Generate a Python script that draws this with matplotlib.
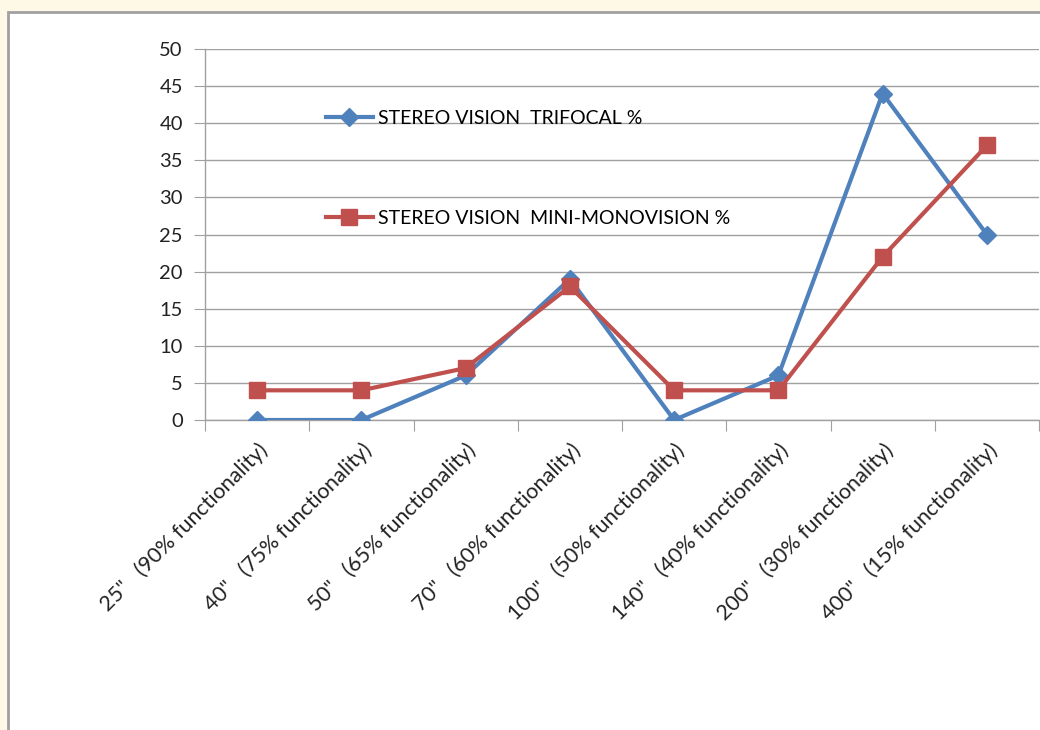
import matplotlib
matplotlib.use("Agg")
import matplotlib.pyplot as plt
from matplotlib.patches import Rectangle

categories = ['25"   (90% functionality)', '40"   (75% functionality)', '50"   (65% functionality)',
              '70"   (60% functionality)', '100"   (50% functionality)', '140"   (40% functionality)',
              '200"   (30% functionality)', '400"   (15% functionality)']
trifocal = [0, 0, 6, 19, 0, 6, 44, 25]
mini_mono = [4, 4, 7, 18, 4, 4, 22, 37]
series_names = ["STEREO VISION  TRIFOCAL %", "STEREO VISION  MINI-MONOVISION %"]
yticks = [0, 5, 10, 15, 20, 25, 30, 35, 40, 45, 50]

plt.rcParams['font.family'] = ['Lato', 'DejaVu Sans']
W, H = 1040, 730
fig = plt.figure(figsize=(W / 100, H / 100), dpi=100)
fig.patch.set_facecolor('#FEF9E6')
# chart area frame
fig.patches.append(Rectangle((8 / W, -0.05), 1.1, 1 - 12 / H + 0.05, transform=fig.transFigure,
                             facecolor='white', edgecolor='#A0A0A0', linewidth=2, zorder=-5))

ax = fig.add_axes([205 / W, 1 - 420 / H, (1039 - 205) / W, (420 - 49) / H])
ax.set_facecolor('none')
x = list(range(len(categories)))
blue = '#4F81BD'
red = '#C0504D'
ax.plot(x, trifocal, color=blue, lw=3, marker='D', ms=9, label=series_names[0], zorder=3)
ax.plot(x, mini_mono, color=red, lw=3, marker='s', ms=11, label=series_names[1], zorder=3)

ax.set_xlim(-0.5, len(categories) - 0.5)
ax.set_ylim(0, 50)
ax.set_yticks(yticks)
ax.set_yticklabels([str(v) for v in yticks], fontsize=14.5, color='#222222')
ax.yaxis.grid(True, color='#A0A0A0', lw=1)
ax.set_axisbelow(True)
ax.tick_params(axis='y', length=8, color='#A0A0A0', pad=8)

ax.set_xticks([i - 0.5 for i in range(len(categories) + 1)], minor=False)
ax.set_xticklabels([])
ax.tick_params(axis='x', which='major', length=8, color='#A0A0A0', direction='out')
ax.set_xticks(x, minor=True)
ax.set_xticklabels(categories, minor=True, rotation=45, ha='right', va='top',
                   rotation_mode='anchor', fontsize=15.5, color='#222222')
ax.tick_params(axis='x', which='minor', length=0, pad=14)

for s in ['top', 'right']:
    ax.spines[s].set_visible(False)
for s in ['left', 'bottom']:
    ax.spines[s].set_color('#A0A0A0')
    ax.spines[s].set_linewidth(1)

ax.legend(loc='upper left', bbox_to_anchor=(326 / W, 1 - 110 / H), bbox_transform=fig.transFigure,
          frameon=False, fontsize=14, labelspacing=4.25, handlelength=2.4, handletextpad=0.3,
          borderpad=0, borderaxespad=0)

fig.savefig('out.png', dpi=100, facecolor=fig.get_facecolor())
